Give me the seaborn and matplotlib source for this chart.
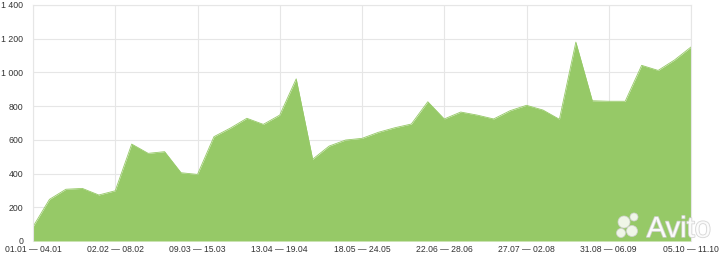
import matplotlib
matplotlib.use("Agg")
import matplotlib.pyplot as plt
import matplotlib.patheffects as pe
from matplotlib.patches import Circle
from matplotlib.transforms import IdentityTransform
import seaborn as sns
import pandas as pd

# ---- data ----
values = [85, 247, 307, 312, 273, 298, 575, 520, 530, 405, 395, 619, 670, 728,
          692, 747, 962, 485, 563, 599, 609, 645, 672, 694, 826, 724, 765, 747,
          724, 773, 805, 777, 722, 1180, 832, 829, 829, 1042, 1012, 1074, 1151]
tick_labels = ["01.01 — 04.01", "02.02 — 08.02", "09.03 — 15.03", "13.04 — 19.04",
               "18.05 — 24.05", "22.06 — 28.06", "27.07 — 02.08", "31.08 — 06.09",
               "05.10 — 11.10"]
y_ticks = [0, 200, 400, 600, 800, 1000, 1200, 1400]

df = pd.DataFrame({"week": list(range(len(values))), "value": values})

sns.set_theme(style="white")
plt.rcParams["font.family"] = ["Liberation Sans", "DejaVu Sans"]

W, H = 720, 258
fig = plt.figure(figsize=(W/100, H/100), dpi=100)
ax = fig.add_axes([33/W, 1 - 241/H, (691-33)/W, (241-5)/H])

green = "#96c967"
sns.lineplot(data=df, x="week", y="value", ax=ax, color=green, linewidth=0.6)
ax.fill_between(df["week"], df["value"], 0, color=green, linewidth=0, zorder=2)

ax.set_xlim(0, len(values) - 1)
ax.set_ylim(0, 1400)
ax.set_xlabel("")
ax.set_ylabel("")

ax.set_yticks(y_ticks)
ax.set_yticklabels([f"{v:,}".replace(",", " ") for v in y_ticks])
ax.set_xticks(list(range(0, len(values), 5)))
ax.set_xticklabels(tick_labels)
ax.tick_params(axis="both", length=0, colors="#333333")
ax.tick_params(axis="y", pad=7, labelsize=6.3)
ax.tick_params(axis="x", pad=3, labelsize=6.2)

ax.grid(True, color="#e6e6e6", linewidth=0.8, zorder=0)
ax.set_axisbelow(True)
for s in ax.spines.values():
    s.set_color("#e6e6e6")
    s.set_linewidth(0.8)
ax.spines["bottom"].set_visible(False)

# watermark
fig.text(711/W, 1 - 237/H, "Avito", ha="right", va="baseline", fontsize=21,
         color="white", alpha=0.85,
         path_effects=[pe.withStroke(linewidth=1.2, foreground="#d0d0d0")])
for (cx, cy, r) in [(624, 222, 6), (634, 217, 4), (621, 233, 4.5), (632, 231, 5.5)]:
    fig.patches.append(Circle((cx, H - cy), r, transform=IdentityTransform(),
                              facecolor="white", edgecolor="#d0d0d0", linewidth=0.6,
                              alpha=0.85))

fig.savefig("out.png", dpi=100)
